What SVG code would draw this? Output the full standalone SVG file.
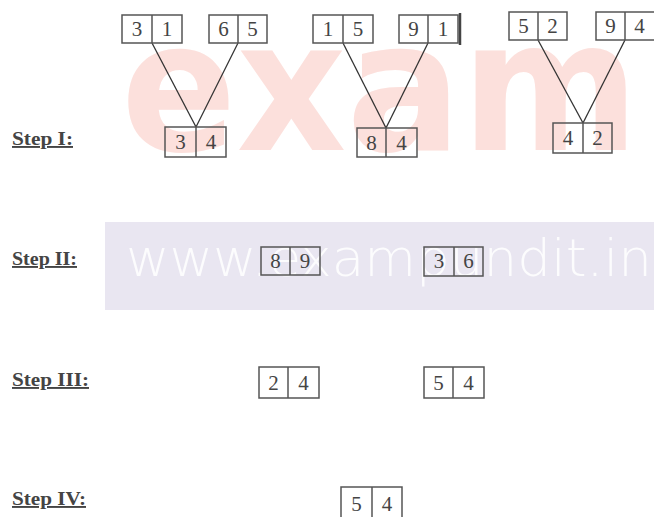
<svg xmlns="http://www.w3.org/2000/svg" width="654" height="517" viewBox="0 0 654 517">
<style>
.bx{fill:none;stroke:#555;stroke-width:1.5}
.d{font-family:"Liberation Serif",serif;font-size:21px;fill:#444;text-anchor:middle}
.lbl{font-family:"Liberation Serif",serif;font-weight:bold;font-size:19px;fill:#444;text-decoration:underline}
.conn{stroke:#333;stroke-width:1.3;fill:none}
</style>
<rect x="0" y="0" width="654" height="517" fill="#ffffff"/>
<g id="watermark">
<text x="121" y="150" font-family="DejaVu Sans, sans-serif" font-weight="bold" font-size="182" fill="#fce0dc" textLength="518" lengthAdjust="spacingAndGlyphs">exam</text>
<rect x="105" y="222" width="549" height="88" fill="#e9e6f1"/>
<text x="126" y="276" font-family="DejaVu Sans, sans-serif" font-weight="200" font-size="52" fill="#ffffff" fill-opacity="0.85" textLength="526" lengthAdjust="spacingAndGlyphs">www.exampundit.in</text>
</g>
<g id="labels">
<text class="lbl" x="12" y="145" textLength="61" lengthAdjust="spacingAndGlyphs">Step I:</text>
<text class="lbl" x="12" y="265" textLength="65" lengthAdjust="spacingAndGlyphs">Step II:</text>
<text class="lbl" x="12" y="386" textLength="77" lengthAdjust="spacingAndGlyphs">Step III:</text>
<text class="lbl" x="12" y="505" textLength="74" lengthAdjust="spacingAndGlyphs">Step IV:</text>
</g>
<g id="connectors">
<line class="conn" x1="152" y1="43" x2="196" y2="127"/>
<line class="conn" x1="238" y1="43" x2="196" y2="127"/>
<line class="conn" x1="343" y1="43" x2="386" y2="128"/>
<line class="conn" x1="428" y1="43" x2="386" y2="128"/>
<line class="conn" x1="538" y1="40" x2="583" y2="123"/>
<line class="conn" x1="625" y1="40" x2="583" y2="123"/>
</g>
<g id="n31"><rect class="bx" x="122" y="15" width="60" height="28"/><line class="bx" x1="152" y1="15" x2="152" y2="43"/><text class="d" x="137" y="36">3</text><text class="d" x="167" y="36">1</text></g>
<g id="n65"><rect class="bx" x="209" y="15" width="58" height="28"/><line class="bx" x1="238" y1="15" x2="238" y2="43"/><text class="d" x="223.5" y="36">6</text><text class="d" x="252.5" y="36">5</text></g>
<g id="n15"><rect class="bx" x="313" y="15" width="60" height="28"/><line class="bx" x1="343" y1="15" x2="343" y2="43"/><text class="d" x="328" y="36">1</text><text class="d" x="358" y="36">5</text></g>
<g id="n91"><rect class="bx" x="399" y="15" width="59" height="28"/><line class="bx" x1="428" y1="15" x2="428" y2="43"/><line stroke="#444" stroke-width="2.5" x1="460" y1="13" x2="460" y2="45"/><text class="d" x="413.5" y="36">9</text><text class="d" x="443" y="36">1</text></g>
<g id="n52"><rect class="bx" x="509" y="12" width="58" height="28"/><line class="bx" x1="538" y1="12" x2="538" y2="40"/><text class="d" x="523.5" y="33">5</text><text class="d" x="552.5" y="33">2</text></g>
<g id="n94"><rect class="bx" x="596" y="12" width="62" height="28"/><line class="bx" x1="625" y1="12" x2="625" y2="40"/><text class="d" x="610.5" y="33">9</text><text class="d" x="639.5" y="33">4</text></g>
<g id="n34"><rect class="bx" x="165" y="127" width="61" height="30"/><line class="bx" x1="196" y1="127" x2="196" y2="157"/><text class="d" x="180.5" y="149">3</text><text class="d" x="211" y="149">4</text></g>
<g id="n84"><rect class="bx" x="357" y="128" width="60" height="29"/><line class="bx" x1="386" y1="128" x2="386" y2="157"/><text class="d" x="371.5" y="150">8</text><text class="d" x="401.5" y="150">4</text></g>
<g id="n42"><rect class="bx" x="553" y="123" width="59" height="30"/><line class="bx" x1="583" y1="123" x2="583" y2="153"/><text class="d" x="568" y="145">4</text><text class="d" x="597.5" y="145">2</text></g>
<g id="n89"><rect class="bx" x="261" y="247" width="59" height="28"/><line class="bx" x1="290" y1="247" x2="290" y2="275"/><text class="d" x="275.5" y="268">8</text><text class="d" x="305" y="268">9</text></g>
<g id="n36"><rect class="bx" x="424" y="247" width="59" height="29"/><line class="bx" x1="454" y1="247" x2="454" y2="276"/><text class="d" x="439" y="268">3</text><text class="d" x="468.5" y="268">6</text></g>
<g id="n24"><rect class="bx" x="259" y="367" width="60" height="31"/><line class="bx" x1="288" y1="367" x2="288" y2="398"/><text class="d" x="273.5" y="390">2</text><text class="d" x="303.5" y="390">4</text></g>
<g id="n54a"><rect class="bx" x="424" y="367" width="60" height="31"/><line class="bx" x1="453" y1="367" x2="453" y2="398"/><text class="d" x="438.5" y="390">5</text><text class="d" x="468.5" y="390">4</text></g>
<g id="n54b"><rect class="bx" x="341" y="487" width="61" height="33"/><line class="bx" x1="372" y1="487" x2="372" y2="520"/><text class="d" x="356.5" y="511">5</text><text class="d" x="387" y="511">4</text></g>
</svg>
